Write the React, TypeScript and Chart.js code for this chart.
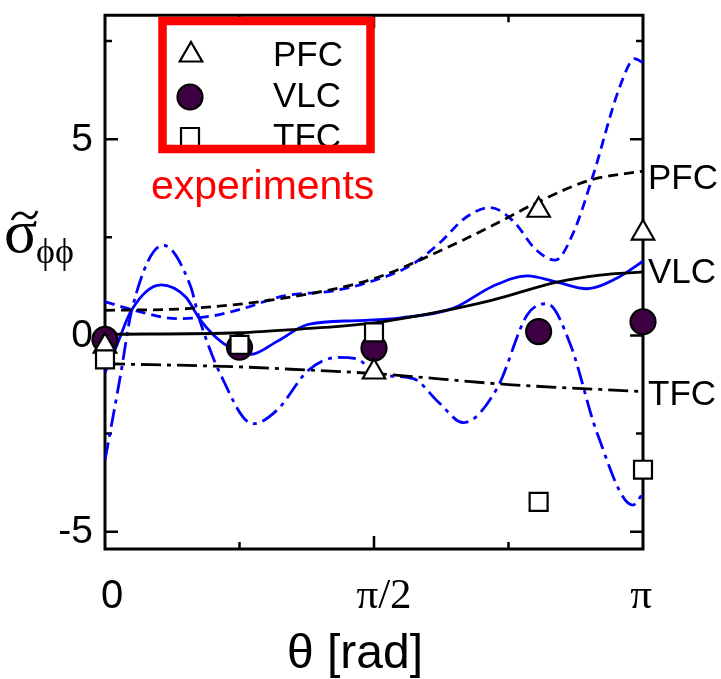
import React, { useEffect, useRef } from 'react';
import { Chart, registerables } from 'chart.js';

Chart.register(...registerables);

// x values are in units of π (θ/π)
const xTickValues = [0, 0.25, 0.5, 0.75, 1];
const xTickLabels = ['0', '', 'π/2', '', 'π'];
const yTickValues = [-5, -2.5, 0, 2.5, 5, 7.5];
const yTickLabels = ['-5', '', '0', '', '5', ''];

// experiments
const expTheta = [0, 0.25, 0.5, 0.806, 1];
const pfcExpTheta = [0, 0.5, 0.806, 1];
const pfcExp = [-0.27, -0.93, 3.19, 2.61];
const vlcExp = [-0.1, -0.3, -0.32, 0.1, 0.35];
const tfcExp = [-0.61, -0.24, 0.08, -4.24, -3.42];

// black model curves
const pfcModelTheta = [0, 0.16, 0.345, 0.5, 0.625, 0.72, 0.805, 0.9, 1];
const pfcModel = [0.64, 0.69, 0.98, 1.45, 2.17, 2.8, 3.4, 3.95, 4.19];
const vlcModelTheta = [0, 0.25, 0.35, 0.5, 0.62, 0.72, 0.84, 0.92, 1];
const vlcModel = [0.03, 0.07, 0.15, 0.32, 0.6, 0.9, 1.36, 1.54, 1.62];
const tfcModelTheta = [0, 0.25, 0.345, 0.5, 0.75, 1];
const tfcModel = [-0.72, -0.8, -0.86, -0.97, -1.25, -1.43];

// blue curves
const pfcBlueTheta = [0, 0.05, 0.135, 0.2, 0.26, 0.33, 0.43, 0.5, 0.57, 0.623, 0.67, 0.716, 0.76, 0.8, 0.837, 0.87, 0.907, 0.957, 0.985, 1];
const pfcBlue = [0.86, 0.66, 0.43, 0.5, 0.7, 1.0, 1.15, 1.4, 1.8, 2.37, 3.0, 3.26, 2.9, 2.2, 1.92, 2.6, 4.07, 6.34, 7.05, 6.95];
const vlcBlueTheta = [0, 0.019, 0.05, 0.104, 0.15, 0.177, 0.22, 0.271, 0.32, 0.377, 0.469, 0.55, 0.647, 0.72, 0.785, 0.84, 0.896, 0.95, 1];
const vlcBlue = [-0.95, -0.35, 0.66, 1.29, 0.98, 0.4, -0.2, -0.48, -0.15, 0.28, 0.38, 0.45, 0.69, 1.25, 1.52, 1.36, 1.19, 1.45, 1.89];
const tfcBlueTheta = [0, 0.028, 0.05, 0.108, 0.158, 0.177, 0.215, 0.275, 0.32, 0.377, 0.432, 0.469, 0.506, 0.573, 0.62, 0.666, 0.729, 0.785, 0.822, 0.865, 0.915, 0.981, 1];
const tfcBlue = [-3.18, -1.08, 0.66, 2.3, 1.29, 0.35, -1.0, -2.25, -1.9, -0.9, -0.56, -0.6, -0.99, -1.1, -1.7, -2.22, -1.34, 0.53, 0.81, -0.23, -2.5, -4.32, -4.02];

const rightLabels = ['PFC', 'VLC', 'TFC'];
const rightLabelValues = [4.01, 1.62, -1.49];
const legendLabels = ['PFC', 'VLC', 'TFC'];

const BLUE = '#0000ff';
const PURPLE = '#3d0042';
const SANS = '"Liberation Sans", Arial, sans-serif';
const SERIF = '"Liberation Serif", "Times New Roman", serif';

const pts = (xs: number[], ys: number[]) => xs.map((x, i) => ({ x, y: ys[i] }));

const decor = {
  id: 'decor',
  beforeDatasetsDraw(chart: any) {
    const { ctx, chartArea: a, scales } = chart;
    const xs = scales.x;
    const ys = scales.y;
    ctx.save();
    ctx.strokeStyle = '#000';
    ctx.lineWidth = 3;
    ctx.beginPath();
    ctx.rect(a.left, a.top, a.right - a.left, a.bottom - a.top);
    ctx.stroke();
    ctx.lineWidth = 2.5;
    ctx.beginPath();
    xTickValues.forEach((v, i) => {
      if (v === 0 || v === 1) return;
      const px = xs.getPixelForValue(v);
      const len = xTickLabels[i] ? 13 : 7;
      ctx.moveTo(px, a.bottom);
      ctx.lineTo(px, a.bottom - len);
      ctx.moveTo(px, a.top);
      ctx.lineTo(px, a.top + len);
    });
    yTickValues.forEach((v, i) => {
      const py = ys.getPixelForValue(v);
      const len = yTickLabels[i] ? 13 : 7;
      ctx.moveTo(a.left, py);
      ctx.lineTo(a.left + len, py);
      ctx.moveTo(a.right, py);
      ctx.lineTo(a.right - len, py);
    });
    ctx.stroke();

    // tick labels
    ctx.fillStyle = '#000';
    ctx.font = `39px ${SANS}`;
    ctx.textAlign = 'right';
    ctx.textBaseline = 'middle';
    yTickValues.forEach((v, i) => {
      if (!yTickLabels[i]) return;
      ctx.fillText(yTickLabels[i], a.left - 12, ys.getPixelForValue(v) + 1);
    });
    ctx.textAlign = 'center';
    ctx.textBaseline = 'alphabetic';
    const xOff = [7, 0, 10, 0, -2];
    xTickValues.forEach((v, i) => {
      const lab = xTickLabels[i];
      if (!lab) return;
      ctx.font = lab === '0' ? `40px ${SANS}` : `43px ${SERIF}`;
      ctx.fillText(lab, xs.getPixelForValue(v) + xOff[i], a.bottom + 59);
    });

    // x title
    ctx.font = `48px ${SANS}`;
    ctx.fillText('θ [rad]', 355, 668);

    // y title
    ctx.textAlign = 'left';
    ctx.font = `62px ${SERIF}`;
    ctx.fillText('σ', 4, 252);
    ctx.font = `36px ${SERIF}`;
    ctx.fillText('ϕϕ', 36, 263);
    ctx.lineWidth = 2.8;
    ctx.beginPath();
    ctx.moveTo(12, 220);
    ctx.bezierCurveTo(16, 211, 22, 212, 26, 215.5);
    ctx.bezierCurveTo(30, 219, 34, 219, 37, 211);
    ctx.stroke();

    // right labels
    ctx.font = `35px ${SANS}`;
    ctx.textBaseline = 'middle';
    rightLabels.forEach((t, i) => {
      ctx.fillText(t, a.right + 5, ys.getPixelForValue(rightLabelValues[i]) + 1);
    });
    ctx.restore();
  },
  afterDraw(chart: any) {
    const { ctx } = chart;
    ctx.save();
    ctx.lineWidth = 2.2;
    ctx.strokeStyle = '#000';
    // legend symbols
    const r = 13;
    const cx = 191;
    ctx.fillStyle = '#fff';
    ctx.beginPath();
    ctx.moveTo(cx, 55 - r);
    ctx.lineTo(cx + r * Math.sin((2 * Math.PI) / 3), 55 + r / 2);
    ctx.lineTo(cx - r * Math.sin((2 * Math.PI) / 3), 55 + r / 2);
    ctx.closePath();
    ctx.fill();
    ctx.stroke();
    ctx.fillStyle = PURPLE;
    ctx.beginPath();
    ctx.arc(190, 97, 12.5, 0, Math.PI * 2);
    ctx.fill();
    ctx.stroke();
    ctx.fillStyle = '#fff';
    ctx.beginPath();
    ctx.rect(181, 128, 18, 18);
    ctx.fill();
    ctx.stroke();
    ctx.fillStyle = '#000';
    ctx.font = `35px ${SANS}`;
    ctx.textAlign = 'left';
    ctx.textBaseline = 'middle';
    [56, 97, 138].forEach((yy, i) => ctx.fillText(legendLabels[i], 273, yy));
    ctx.strokeStyle = '#ff0000';
    ctx.lineWidth = 8.5;
    ctx.strokeRect(162.5, 21, 208, 128);
    ctx.fillStyle = '#ff0000';
    ctx.font = `41px ${SANS}`;
    ctx.textBaseline = 'alphabetic';
    ctx.fillText('experiments', 151, 199);
    ctx.restore();
  },
};

export default function App() {
  const ref = useRef<HTMLCanvasElement>(null);
  useEffect(() => {
    document.body.style.margin = '0';
    const canvas = ref.current;
    if (!canvas) return;
    const line = (xs: number[], ys: number[], color: string, dash: number[]) => ({
      data: pts(xs, ys),
      borderColor: color,
      borderWidth: 2.8,
      borderDash: dash,
      pointRadius: 0,
      fill: false,
      cubicInterpolationMode: 'monotone' as const,
      order: 5,
    });
    const marker = (xs: number[], ys: number[], style: string, radius: number, bg: string, order: number) => ({
      data: pts(xs, ys),
      showLine: false,
      pointStyle: style,
      pointRadius: radius,
      pointBackgroundColor: bg,
      pointBorderColor: '#000',
      pointBorderWidth: 2.2,
      clip: false as any,
      order,
    });
    const chart = new Chart(canvas, {
      type: 'line',
      data: {
        datasets: [
          line(pfcModelTheta, pfcModel, '#000', [10, 6]),
          line(vlcModelTheta, vlcModel, '#000', []),
          line(tfcModelTheta, tfcModel, '#000', [20, 6, 4, 6]),
          line(pfcBlueTheta, pfcBlue, BLUE, [10, 6]),
          line(vlcBlueTheta, vlcBlue, BLUE, []),
          line(tfcBlueTheta, tfcBlue, BLUE, [18, 6, 4, 6]),
          marker(expTheta, vlcExp, 'circle', 12.5, PURPLE, 4),
          marker(pfcExpTheta, pfcExp, 'triangle', 13, '#fff', 3),
          marker(expTheta, tfcExp, 'rect', 12.7, '#fff', 2),
        ] as any,
      },
      options: {
        responsive: false,
        animation: false,
        layout: { padding: { left: 105, right: 78, top: 11, bottom: 130 } },
        plugins: { legend: { display: false }, tooltip: { enabled: false } },
        scales: {
          x: { type: 'linear', min: 0, max: 1, display: false },
          y: { type: 'linear', min: -5.44, max: 8.16, display: false },
        },
      },
      plugins: [decor],
    });
    return () => chart.destroy();
  }, []);
  return <canvas ref={ref} width={721} height={679} style={{ display: 'block' }} />;
}
